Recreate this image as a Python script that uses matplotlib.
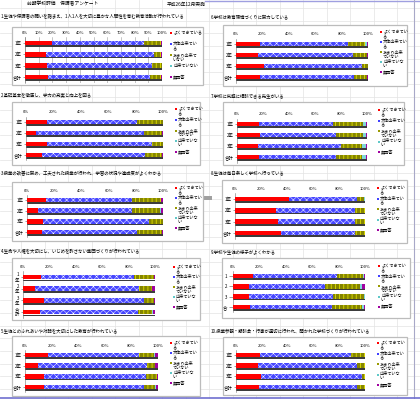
import matplotlib
matplotlib.use("Agg")
import matplotlib.pyplot as plt
from matplotlib.patches import Rectangle
import numpy as np

plt.rcParams['font.family'] = ['Noto Sans CJK JP', 'DejaVu Sans']

# answer categories (order of stacking)
categories = ["よくできている", "大体出来ている", "あまり出来ていない", "出来ていない", "無回答"]
groups = ["1年", "2年", "3年", "合計"]

# percent per group: [よく, 大体, あまり, 出来ていない, 無回答]
q1 = [[19.5, 67.5, 12.0, 0.0, 1.0], [15, 79, 5, 0, 1], [16, 76.5, 7.5, 0, 0], [17, 74, 8.5, 0, 0.5]]
q2 = [[15, 66, 19, 0, 0], [7, 79, 13, 0, 1], [15, 77, 8, 0, 0], [12, 75, 12, 0, 1]]
q3 = [[14, 63, 21.5, 0, 1.5], [8, 69, 21, 0.5, 1.5], [12, 78, 10, 0, 0], [11, 70, 18, 0.5, 0.5]]
q4 = [[14, 70, 15, 0, 1], [9, 79, 10, 0, 2], [16, 76, 7, 0, 1], [13, 74, 11, 0.5, 1.5]]
q5 = [[17.5, 68, 11.5, 1, 2], [10, 82, 6, 0, 2], [14, 77, 8, 0, 1], [14, 75.5, 8.5, 0.5, 1.5]]
q6 = [[18, 66.5, 13.5, 1, 1], [17, 71.5, 10.5, 0, 1], [21, 74.5, 4.5, 0, 0], [18, 71.5, 9.5, 0, 1]]
q7 = [[17, 56.5, 23.5, 2, 1], [18, 58, 21, 2, 1], [16, 64, 16, 3.5, 0.5], [17, 59, 20, 3, 1]]
q8 = [[41.5, 52, 6, 0.5, 0], [31.5, 60.5, 8, 0, 0], [33, 59, 8, 0, 0], [35.5, 56.5, 8, 0, 0]]
q9 = [[15.5, 63, 20, 1, 0.5], [12, 58, 26.5, 1.5, 2], [12, 64, 23.5, 0.5, 0], [13, 62, 23, 1, 1]]
q10 = [[18.5, 71, 10.5, 0, 0], [17, 76.5, 6.5, 0, 0], [19.5, 78.5, 2, 0, 0], [18, 75.5, 6.5, 0, 0]]

titles = [
    "1.生徒や保護者の願いを踏まえ、1人1人を大切に豊かな人間性を育む教育活動が行われている",
    "2.基礎基本を徹底し、学力の充実と向上を図る",
    "3.授業の改善に努め、工夫された授業が行われ、学習の状況や達成度がよくわかる",
    "4.生命や人権を大切にし、いじめを許さない集団づくりが行われている",
    "5.生徒とのふれあいや対話を大切にした教育が行われている",
    "6.学校は教育環境づくりに努力している",
    "7.学校に気軽に相談できる先生がいる",
    "8.生徒は毎日楽しく学校へ行っている",
    "9.学校や生徒の様子がよくわかる",
    "10.授業参観・懇談会・行事が適切に行われ、開かれた学校づくりが行われている",
]
questions = [q1, q2, q3, q4, q5, q6, q7, q8, q9, q10]

legend_wrapped = ["よくできてい\nる", "大体出来てい\nる", "あまり出来\nていない", "出来ていな\nい", "無回答"]
legend_wide = ["よくできている", "大体出来てい\nる", "あまり出来て\nいない", "出来ていない", "無回答"]

W, H = 420, 399
fig = plt.figure(figsize=(W / 100, H / 100), dpi=100)
fig.patch.set_facecolor("white")

bg = fig.add_axes([0, 0, 1, 1])
bg.set_xlim(0, W)
bg.set_ylim(H, 0)
bg.axis("off")

# spreadsheet cell grid
for gx in np.arange(21, W, 23.5):
    bg.plot([gx, gx], [0, H], color="#e3e3e3", lw=0.5, zorder=0)
for gy in np.arange(8, H, 12.7):
    bg.plot([0, W], [gy, gy], color="#e3e3e3", lw=0.5, zorder=0)
bg.plot([205, W], [0.6, 0.6], color="#9f9fe0", lw=1.0, zorder=1)
bg.plot([414, 414], [0, H], color="#a8a8c8", lw=0.8, zorder=1)
bg.plot([0, W], [397.5, 397.5], color="#6f6fd0", lw=1.2, zorder=1)
bg.add_patch(Rectangle((198, 196), 14, 3.5, facecolor="#a0a0a0", edgecolor="none", zorder=1))

bg.text(27, 4, "前期学校評価　保護者アンケート", fontsize=3.4, va="center", ha="left", zorder=3)
bg.text(167, 4, "平成26年12月実施", fontsize=3.4, va="center", ha="left", zorder=3)

# layout: box, axis 0%/100% x, first/last bar y, title pos, legend x, y0, dy
layout = [
    ((12, 27, 203, 85), 25, 162, 43, 77, (1, 17), 170, 33, 11.0),
    ((12, 102, 200, 165), 26, 163, 122, 155, (1, 96), 175, 109, 10.8),
    ((12, 182, 203, 241), 27, 163, 200, 232, (1, 174), 175, 188, 10.0),
    ((12, 258, 200, 320), 23, 155, 277, 312, (1, 252), 173, 267, 10.0),
    ((12, 336, 200, 396), 25, 158, 355, 387, (1, 332), 170, 343, 10.0),
    ((223, 25, 407, 86), 236, 368, 44, 77, (211, 18), 380, 32, 10.0),
    ((223, 102, 404, 165), 237, 367, 124, 157, (211, 96), 378, 110, 10.5),
    ((222, 180, 407, 243), 235, 365, 199, 233, (211, 174), 377, 188, 10.5),
    ((222, 258, 410, 318), 233, 365, 276, 307, (211, 252), 378, 266, 10.2),
    ((223, 337, 407, 395), 236, 365, 355, 387, (211, 332), 377, 343, 10.5),
]

colors = ["#ff0000", "#4646ff", "#858500", "#80d8d8", "#a000a0"]
hatches = [None, "xxxxx", "||||", None, None]
hatch_cols = ["#ff0000", "white", "#e0e000", "#80d8d8", "#a000a0"]
hatch_lws = [0.5, 0.35, 0.6, 0.5, 0.5]
leg_cols = ["#ff0000", "#4040ff", "#9a9a00", "#60c8c8", "#a000a0"]

for qi, (q, title, spec) in enumerate(zip(questions, titles, layout)):
    box, xa0, xa1, yb0, yb1, tpos, lx, ly0, ldy = spec
    bg.add_patch(Rectangle((box[0], box[1]), box[2] - box[0], box[3] - box[1],
                           facecolor="white", edgecolor="#bcbcbc", lw=0.9, zorder=2))
    bg.text(tpos[0], tpos[1], title, fontsize=3.2, va="center", ha="left", zorder=3)

    step = (yb1 - yb0) / 3
    top, bot = yb0 - step / 2, yb1 + step / 2
    ax = fig.add_axes([xa0 / W, 1 - bot / H, (xa1 - xa0) / W, (bot - top) / H])
    ax.set_facecolor("none")

    vals = np.array(q, dtype=float)
    vals = vals / vals.sum(axis=1, keepdims=True) * 100
    ypos = np.arange(len(groups))

    ax.barh(ypos + 0.29, 100, height=0.15, color="#3c3c3c", linewidth=0, zorder=2)
    lefts = np.zeros(len(groups))
    for k in range(len(categories)):
        plt.rcParams['hatch.linewidth'] = hatch_lws[k]
        ax.barh(ypos, vals[:, k], left=lefts, height=0.42, color=colors[k],
                hatch=hatches[k], edgecolor=hatch_cols[k], linewidth=0, zorder=3)
        lefts += vals[:, k]

    ax.set_xlim(0, 100)
    ax.set_ylim(3.5, -0.5)
    step_pct = 10 if qi == 0 else 20
    ticks = np.arange(0, 101, step_pct)
    ax.set_xticks(ticks)
    ax.set_xticklabels([f"{t}%" for t in ticks])
    ax.xaxis.tick_top()
    ax.tick_params(axis="x", length=0, labelsize=3.0, pad=1.5)
    if qi == 0:
        ax.grid(axis="x", color="#9a9a9a", lw=0.4, zorder=1)
    ax.set_yticks(ypos)
    if qi == 3:
        ax.set_yticklabels(["1\n年", "2\n年", "3\n年", "合\n計"], linespacing=1.0)
    elif qi == 8:
        ax.set_yticklabels(["1", "2", "3", "合"])
    else:
        ax.set_yticklabels(groups)
    ax.tick_params(axis="y", length=3.0 if qi == 8 else 1.5, width=0.4,
                   labelsize=3.2, pad=1.0, color="#555555")
    for s in ["top", "right", "bottom"]:
        ax.spines[s].set_visible(False)
    ax.spines["left"].set_linewidth(0.4)
    ax.spines["left"].set_color("#707070")

    labels = legend_wide if qi == 0 else legend_wrapped
    for k, lab in enumerate(labels):
        yy = ly0 + k * ldy
        bg.add_patch(Rectangle((lx, yy - 1), 2, 2, facecolor=leg_cols[k],
                               edgecolor="none", zorder=4))
        bg.text(lx + 3, yy - 2.2, lab, fontsize=3.0, va="top", ha="left",
                linespacing=1.0, zorder=4)

fig.savefig("out.png", dpi=100, facecolor="white")
